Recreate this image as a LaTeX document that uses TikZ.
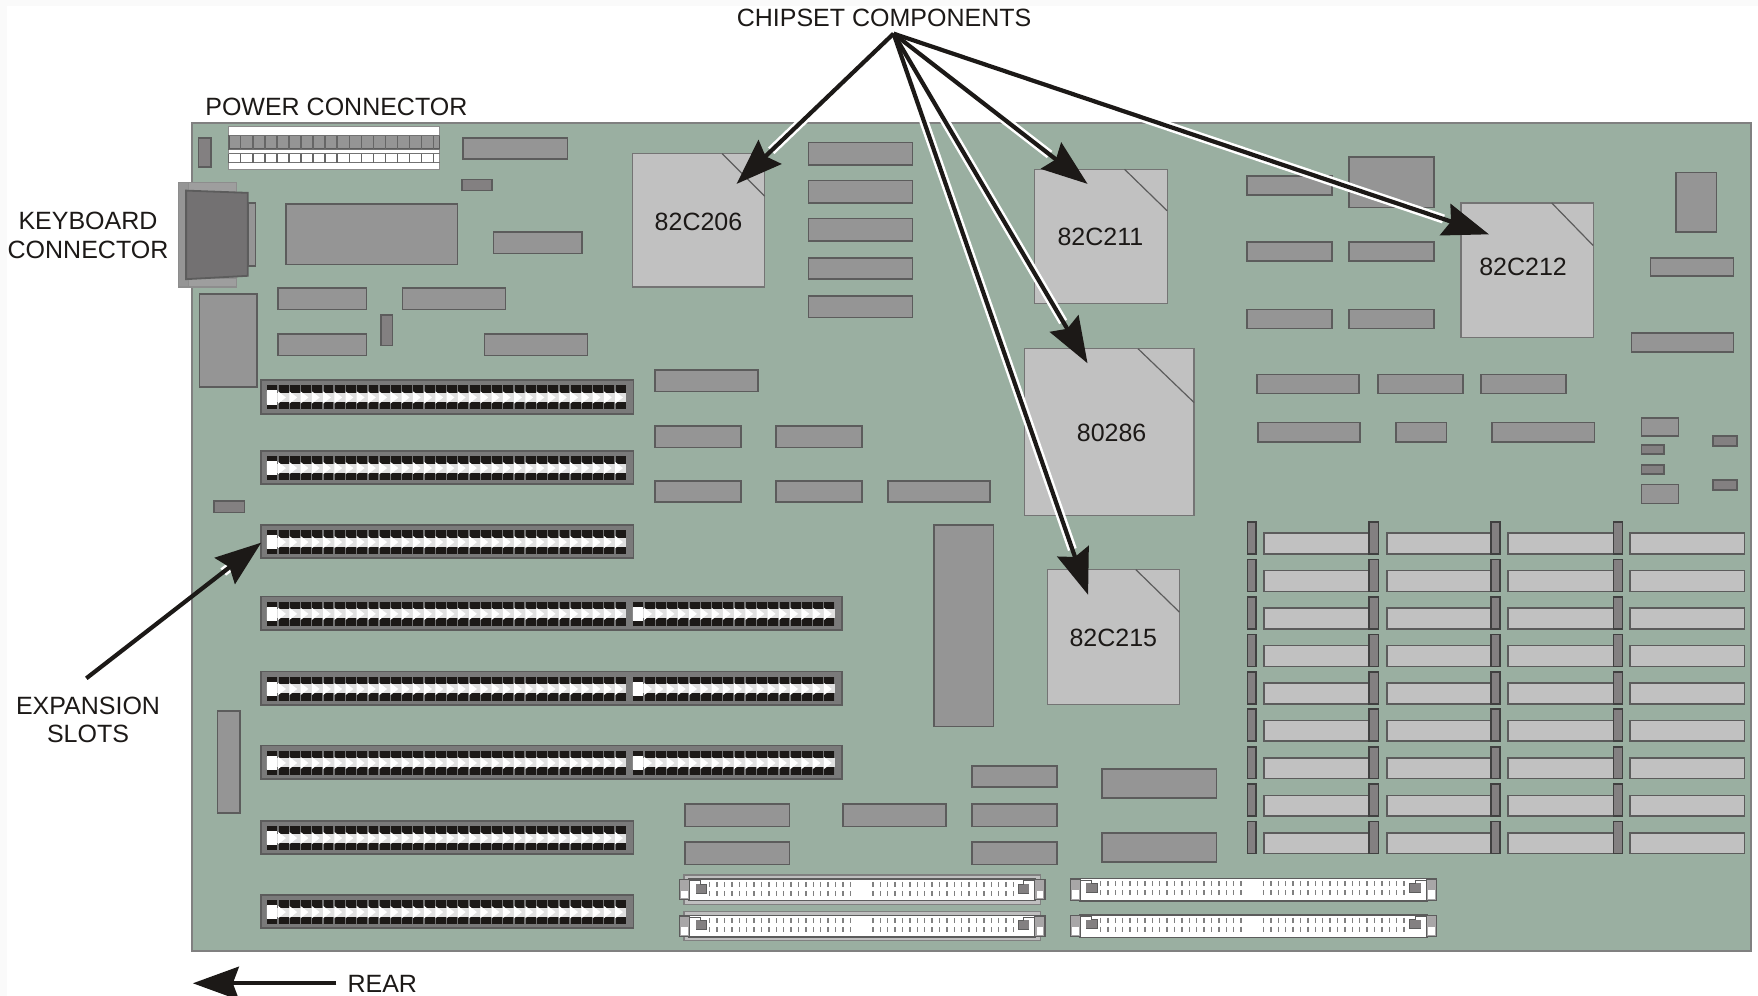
\documentclass[tikz,border=0pt]{standalone}
\usepackage{fontspec}
\setmainfont{Liberation Sans}
\usetikzlibrary{arrows.meta}
\definecolor{board}{HTML}{9AAFA1}
\definecolor{ic}{HTML}{959595}
\definecolor{icd}{HTML}{838081}
\definecolor{icedge}{HTML}{5C5C5C}
\definecolor{chipc}{HTML}{C1C1C1}
\definecolor{ink}{HTML}{1C1917}
\definecolor{slotrim}{HTML}{7A7A7A}
\tikzset{
  x=0.56059pt,y=-0.56059pt,
  ic/.style={fill=ic,draw=icedge,line width=0.8pt},
  icdark/.style={fill=icd,draw=icedge,line width=0.8pt},
  chip/.style={fill=chipc,draw=icedge!85,line width=0.6pt},
  bar/.style={fill=chipc,draw=icedge,line width=0.8pt},
  peg/.style={fill=icd,draw=icedge!70!black,line width=0.8pt},
  lbl/.style={font=\fontsize{12.5}{14.2}\selectfont,text=ink,inner sep=0pt,align=center},
  halo/.style={draw=white,line width=4.6pt},
  pointer/.style={draw=ink,line width=2.1pt,-{Stealth[length=23pt,width=16.5pt,inset=3pt]}},
}
% one run of contacts of an expansion slot: x, y, number of cells
\newcommand{\slotseg}[3]{%
  \fill[black!55] (#1,#2+4.5) rectangle (#1+#3*10.02,#2+26);
  \foreach \i in {1,...,#3}{%
    \fill[ink] (#1+\i*10.02-9.5,#2+4.5) rectangle (#1+\i*10.02-0.7,#2+11.5);
    \fill[ink] (#1+\i*10.02-9.5,#2+19.5) rectangle (#1+\i*10.02-0.7,#2+26);
    \fill[black!12] (#1+\i*10.02-10.02,#2+11.5) rectangle (#1+\i*10.02,#2+19.5);
    \fill[white] (#1+\i*10.02-10,#2+10) -- (#1+\i*10.02-3,#2+15.5) -- (#1+\i*10.02-10,#2+21) -- cycle;
  }
  \fill[white] (#1,#2+9) rectangle (#1+9,#2+22);
}
\newcommand{\slotshort}[1]{%
  \draw[fill=slotrim,draw=icedge,line width=0.9pt] (233,#1) rectangle (565,#1+30);
  \slotseg{238}{#1}{32}
}
\newcommand{\slotlong}[1]{%
  \draw[fill=slotrim,draw=icedge,line width=0.9pt] (233,#1) rectangle (751,#1+30);
  \slotseg{238}{#1}{32}
  \slotseg{564.5}{#1}{18}
}
% memory connector: left, right, top of white, bottom of white
\newcommand{\conn}[4]{%
  \fill[white] (#1+8,#3) rectangle (#2-8,#4);
  \draw[icedge,line width=0.8pt] (#1+8,#3) -- (#2-8,#3) (#1+8,#4) -- (#2-8,#4);
  \draw[fill=icd!70,draw=icedge,line width=0.6pt] (#1,#3+0.5) rectangle (#1+9,#4-0.5);
  \fill[white] (#1+1.5,#3+10.5) rectangle (#1+7.5,#4-2);
  \draw[fill=icd!70,draw=icedge,line width=0.6pt] (#2-9,#3+0.5) rectangle (#2,#4-0.5);
  \fill[white] (#2-7.5,#3+10.5) rectangle (#2-1.5,#4-2);
  \fill[icd] (#1+14.5,#3+4.5) rectangle (#1+24,#3+12.5);
  \fill[icd] (#2-24,#3+4.5) rectangle (#2-14.5,#3+12.5);
  \draw[icedge,line width=0.5pt] (#1+9,#3+1.5) -- (#1+19,#3+1.5) -- (#1+19,#3+4.5) -- (#1+24,#3+4.5) -- (#1+24,#3+12.5) -- (#1+14.5,#3+12.5);
  \draw[icedge,line width=0.5pt] (#2-9,#3+1.5) -- (#2-19,#3+1.5) -- (#2-19,#3+4.5) -- (#2-24,#3+4.5) -- (#2-24,#3+12.5) -- (#2-14.5,#3+12.5);
  \foreach \i in {0,...,19}{%
    \draw[black!50,line width=0.7pt] (#1+27+\i*6.6,#3+2.5) -- (#1+27+\i*6.6,#3+7);
    \draw[black!50,line width=0.7pt] (#1+27+\i*6.6,#3+10.5) -- (#1+27+\i*6.6,#3+15);
    \draw[black!50,line width=0.7pt] (#1+172.5+\i*6.6,#3+2.5) -- (#1+172.5+\i*6.6,#3+7);
    \draw[black!50,line width=0.7pt] (#1+172.5+\i*6.6,#3+10.5) -- (#1+172.5+\i*6.6,#3+15);
  }
}
\begin{document}
\begin{tikzpicture}
\useasboundingbox (0,0) rectangle (1568,888);
\fill[black!2] (0,0) rectangle (1568,888);
\fill[white] (6,5) rectangle (1568,888);
% board
\draw[fill=board,draw=black!50,line width=0.9pt] (171,110) rectangle (1562,848);
% keyboard connector
\draw[fill=ic,draw=icedge!70,line width=0.6pt] (159,163) rectangle (168,256);
\draw[fill=black!38,draw=icedge!70,line width=0.6pt] (168,163) rectangle (211,172);
\draw[fill=black!38,draw=icedge!70,line width=0.6pt] (168,248) rectangle (211,256);
\draw[ic] (221,181) rectangle (228,237);
\draw[fill=icd!88!black,draw=icedge,line width=0.9pt] (166,170) -- (221,172) -- (221,246) -- (166,249) -- cycle;
% power connector
\fill[white] (204,113) rectangle (392,151);
\draw[black!45,line width=0.7pt] (204,113) rectangle (392,151);
\fill[ic] (204,121) rectangle (392,133);
\draw[black!55,line width=0.6pt] (204,121) -- (392,121) (204,133) -- (392,133) (204,137) -- (392,137) (204,145) -- (392,145);
\foreach \i in {0,...,17}{\draw[black!60,line width=0.7pt] (204+\i*10.75,121) -- (204+\i*10.75,133) (204+\i*10.75,137) -- (204+\i*10.75,145);}
% plain ICs
\foreach \a/\b/\c/\d in {
 413/123/506/142, 255/182/408/236, 440/207/519/226, 248/257/327/276, 359/257/451/276,
 248/298/327/317, 432/298/524/317, 178/262/229/345, 194/634/214/725,
 721/127/814/147, 721/161/814/181, 721/195/814/215, 721/230/814/249, 721/264/814/283,
 584/330/676/349, 584/380/661/399, 692/380/769/399, 584/429/661/448, 692/429/769/448, 792/429/883/448,
 833/468/886/648, 611/717/704/737, 611/751/704/771, 752/717/844/737,
 867/683/943/702, 867/717/943/737, 867/751/943/771, 983/686/1085/712, 983/743/1085/769,
 1112/157/1188/174, 1203/140/1279/185, 1112/216/1188/233, 1203/216/1279/233, 1112/276/1188/293, 1203/276/1279/293,
 1495/154/1531/207, 1472/230/1546/246, 1455/297/1546/314,
 1121/334/1212/351, 1229/334/1305/351, 1321/334/1397/351,
 1122/377/1213/394, 1245/377/1290/394, 1331/377/1422/394,
 1464/373/1497/389, 1464/432/1497/449}
 {\draw[ic] (\a,\b) rectangle (\c,\d);}
\foreach \a/\b/\c/\d in {177/123/188/149, 412/160/439/170, 340/281/350/308, 191/447/218/457,
 1464/397/1484/405, 1464/415/1484/423, 1528/389/1549/398, 1528/428/1549/437}
 {\draw[icdark] (\a,\b) rectangle (\c,\d);}
% expansion slots
\slotshort{339}\slotshort{402}\slotshort{468}
\slotlong{532}\slotlong{599}\slotlong{665}
\slotshort{732}\slotshort{798}
% memory bank
\foreach \y in {465.5,499,532.4,565.8,599.2,632.6,666,699.4,732.8}{%
  \draw[bar] (1127.5,\y+10) rectangle (1222,\y+28.5);
  \draw[bar] (1237,\y+10) rectangle (1331,\y+28.5);
  \draw[bar] (1345,\y+10) rectangle (1440,\y+28.5);
  \draw[bar] (1454,\y+10) rectangle (1556,\y+28.5);
  \draw[peg] (1112.5,\y) rectangle (1120.5,\y+28.5);
  \draw[peg] (1221,\y) rectangle (1229.5,\y+28.5);
  \draw[peg] (1330,\y) rectangle (1338,\y+28.5);
  \draw[peg] (1439,\y) rectangle (1447,\y+28.5);
}
% memory connectors
\foreach \y in {780.5,813}{\draw[fill=black!25,draw=black!50,line width=0.6pt] (610,\y) rectangle (928,\y+26);}
\conn{606}{932}{784}{803}
\conn{606}{932}{816.5}{835.5}
\conn{954.5}{1281.5}{783.5}{803.5}
\conn{954.5}{1281.5}{816}{836}
% chipset chips
\draw[chip] (564,137) rectangle (682,256); \draw[icedge,line width=0.6pt] (644,137) -- (682,175);
\draw[chip] (923,151) rectangle (1041,271); \draw[icedge,line width=0.6pt] (1003,151) -- (1041,188);
\draw[chip] (1303,181) rectangle (1421,301); \draw[icedge,line width=0.6pt] (1384,181) -- (1421,219);
\draw[chip] (914,311) rectangle (1065,460); \draw[icedge,line width=0.6pt] (1015,311) -- (1065,359);
\draw[chip] (934,508) rectangle (1052,628); \draw[icedge,line width=0.6pt] (1013,508) -- (1052,546);
\node[lbl] (c206) at (623,197.5) {82C206};
\node[lbl] (c211) at (981.5,211.5) {82C211};
\node[lbl] (c212) at (1358.5,238) {82C212};
\node[lbl] (c286) at (991.5,386) {80286};
\node[lbl] (c215) at (993,568.5) {82C215};
% labels
\node[lbl] (lchip) at (788.5,16) {CHIPSET COMPONENTS};
\node[lbl] (lpow) at (300,95) {POWER CONNECTOR};
\node[lbl] (lkey) at (78.5,210) {KEYBOARD\\CONNECTOR};
\node[lbl] (lexp) at (78.5,642) {EXPANSION\\SLOTS};
\node[lbl] (lrear) at (341,877.5) {REAR};
% arrows
\coordinate (apex) at (797,30);
\coordinate (t206) at (657,164);
\coordinate (t211) at (970,164);
\coordinate (t212) at (1328,209);
\coordinate (t286) at (970,324);
\coordinate (t215) at (970.5,530.5);
\coordinate (expfrom) at (77,605);
\coordinate (exptip) at (233,484);
\coordinate (rearfrom) at (300,877);
\coordinate (reartip) at (172,877);
\foreach \t in {t206,t211,t212,t286,t215}{\draw[halo,shorten >=24pt] (apex) -- (\t);}
\draw[halo,shorten >=24pt,shorten <=90pt] (expfrom) -- (exptip);
\foreach \t in {t206,t211,t212,t286,t215}{\draw[pointer] (apex) -- (\t);}
\draw[pointer] (expfrom) -- (exptip);
\draw[pointer] (rearfrom) -- (reartip);
\end{tikzpicture}
\end{document}
